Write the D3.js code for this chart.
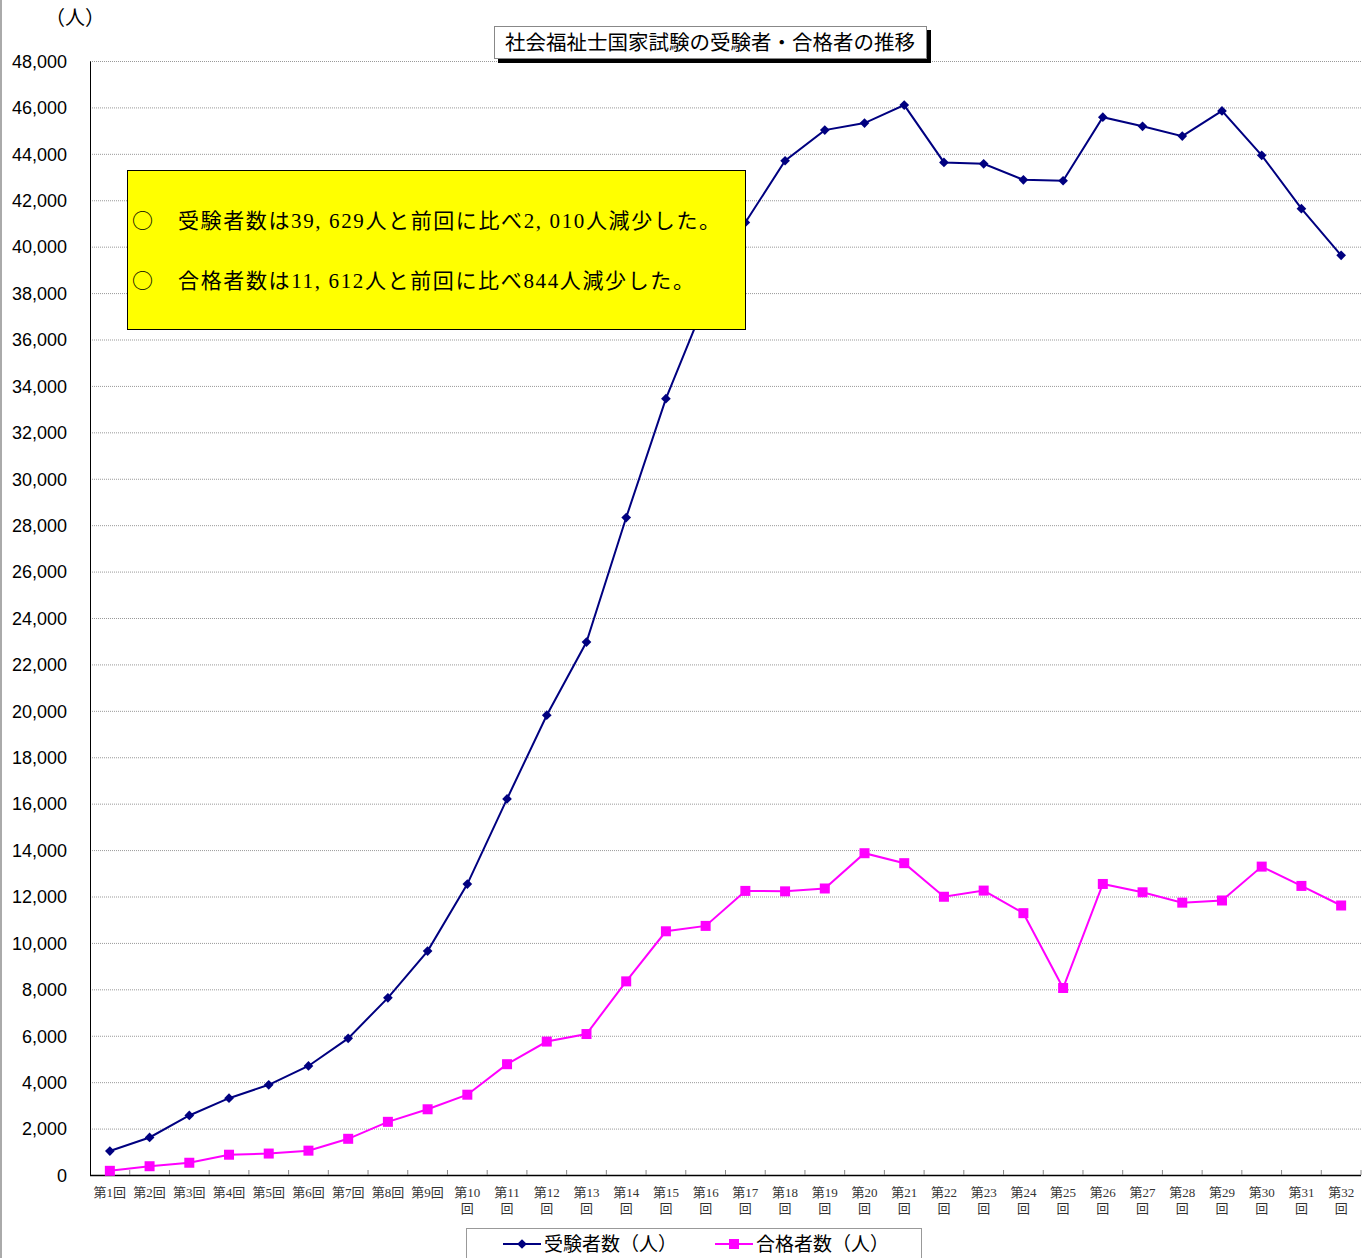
<!DOCTYPE html>
<html>
<head>
<meta charset="utf-8">
<script src="https://cdn.jsdelivr.net/npm/d3@7"></script>
<style>
  html, body { margin: 0; padding: 0; background: #fff; }
  svg { display: block; }
</style>
</head>
<body>
<svg id="chart"></svg>
<script>
// 社会福祉士国家試験 第1回〜第32回
const rounds = d3.range(1, 33).map(n => n);
const examinees = [1033, 1617, 2565, 3309, 3886, 4698, 5887, 7633, 9649, 12535,
    16206, 19812, 22962, 28329, 33452, 37657, 41044, 43701, 45022, 45324,
    46099, 43631, 43568, 42882, 42841, 45578, 45187, 44764, 45849, 43937,
    41639, 39629];
const passers = [180, 378, 528, 874, 924, 1049, 1560, 2291, 2832, 3460,
    4774, 5749, 6074, 8343, 10501, 10733, 12241, 12222, 12345, 13865,
    13436, 11989, 12255, 11282, 8058, 12540, 12181, 11735, 11828, 13288,
    12456, 11612];
const yTicks = d3.range(0, 48001, 2000);
const notes = [
    "受験者数は39, 629人と前回に比べ2, 010人減少した。",
    "合格者数は11, 612人と前回に比べ844人減少した。"
];

(function () {
    const W = 1367, H = 1258;
    const svg = d3.select("#chart").attr("width", W).attr("height", H);
    const serif = "'Liberation Serif', 'Noto Sans CJK JP', serif";
    const jp = "'Noto Sans CJK JP', sans-serif";

    const m = { left: 90, right: 1361, top: 61, bottom: 1175 };

    const x = d3.scaleBand().domain(rounds).range([m.left, m.right]);
    const y = d3.scaleLinear().domain([0, 48000]).range([m.bottom, m.top]);

    // outer frame (left edge)
    svg.append("line").attr("x1", 1).attr("x2", 1).attr("y1", 0).attr("y2", H)
        .attr("stroke", "#aaa").attr("stroke-width", 2);

    // grid
    svg.append("g").selectAll("line").data(yTicks.filter(d => d > 0)).join("line")
        .attr("x1", m.left).attr("x2", m.right)
        .attr("y1", d => y(d) + 0.5).attr("y2", d => y(d) + 0.5)
        .attr("stroke", "#999").attr("stroke-width", 1).attr("stroke-dasharray", "1,1");

    // y axis
    const yAxis = svg.append("g").attr("transform", `translate(${m.left},0)`)
        .call(d3.axisLeft(y).tickValues(yTicks).tickSize(0).tickPadding(23).tickFormat(d3.format(",")));
    yAxis.select(".domain").attr("stroke", "#000");
    yAxis.selectAll("text").attr("font-family", "'Liberation Sans', Arial, sans-serif")
        .attr("font-size", 18).attr("fill", "#000").attr("dy", "0.35em");

    // x axis
    const xAxis = svg.append("g").attr("transform", `translate(0,${m.bottom})`);
    xAxis.append("line").attr("x1", m.left).attr("x2", m.right).attr("y1", 0.5).attr("y2", 0.5)
        .attr("stroke", "#000").attr("stroke-width", 1.5);
    xAxis.selectAll("line.tk").data(rounds).join("line").attr("class", "tk")
        .attr("x1", d => x(d) + x.bandwidth()).attr("x2", d => x(d) + x.bandwidth())
        .attr("y1", 0).attr("y2", -5).attr("stroke", "#888");
    const lbl = xAxis.selectAll("text").data(rounds).join("text")
        .attr("x", d => x(d) + x.bandwidth() / 2).attr("y", 22)
        .attr("text-anchor", "middle").attr("font-family", serif)
        .attr("font-size", 13).attr("fill", "#333");
    lbl.each(function (d) {
        const t = d3.select(this);
        if (d < 10) {
            t.text(`第${d}回`);
        } else {
            t.append("tspan").attr("x", x(d) + x.bandwidth() / 2).text(`第${d}`);
            t.append("tspan").attr("x", x(d) + x.bandwidth() / 2).attr("dy", 16).text("回");
        }
    });

    // unit label
    svg.append("text").attr("x", 75).attr("y", 25).attr("text-anchor", "middle")
        .attr("font-family", jp).attr("font-size", 20).attr("fill", "#000").text("（人）");

    // series
    const cx = d => x(d) + x.bandwidth() / 2;
    const series = [
        { vals: examinees, color: "#000080", shape: "diamond" },
        { vals: passers, color: "#ff00ff", shape: "square" }
    ];
    series.forEach(s => {
        const line = d3.line().x((d, i) => cx(rounds[i])).y(d => y(d));
        svg.append("path").datum(s.vals).attr("d", line)
            .attr("fill", "none").attr("stroke", s.color).attr("stroke-width", 2);
        const g = svg.append("g");
        if (s.shape === "diamond") {
            g.selectAll("path").data(s.vals).join("path")
                .attr("d", d3.symbol(d3.symbolDiamond2, 60))
                .attr("transform", (d, i) => `translate(${cx(rounds[i])},${y(d)})`)
                .attr("fill", s.color);
        } else {
            g.selectAll("rect").data(s.vals).join("rect")
                .attr("x", (d, i) => cx(rounds[i]) - 5).attr("y", d => y(d) - 5)
                .attr("width", 10).attr("height", 10).attr("fill", s.color);
        }
    });

    // note box
    svg.append("rect").attr("x", 127.5).attr("y", 170.5).attr("width", 618).attr("height", 159)
        .attr("fill", "#ffff00").attr("stroke", "#000").attr("stroke-width", 1);
    const noteLen = [542, 516];
    notes.forEach((t, i) => {
        svg.append("text").attr("x", 132).attr("y", 228 + i * 60)
            .attr("font-family", jp).attr("font-size", 21).attr("fill", "#000").text("○");
        svg.append("text").attr("x", 178).attr("y", 228 + i * 60)
            .attr("font-family", serif).attr("font-size", 21).attr("fill", "#000")
            .attr("textLength", noteLen[i]).attr("lengthAdjust", "spacing").text(t);
    });

    // title box
    svg.append("rect").attr("x", 498).attr("y", 30).attr("width", 433).attr("height", 33).attr("fill", "#000");
    svg.append("rect").attr("x", 494.5).attr("y", 26.5).attr("width", 432).attr("height", 32)
        .attr("fill", "#fff").attr("stroke", "#888");
    svg.append("text").attr("x", 710).attr("y", 50).attr("text-anchor", "middle")
        .attr("font-family", jp).attr("font-size", 20.5).attr("fill", "#000")
        .text("社会福祉士国家試験の受験者・合格者の推移");

    // legend
    const lg = svg.append("g");
    lg.append("rect").attr("x", 466.5).attr("y", 1228.5).attr("width", 455).attr("height", 40)
        .attr("fill", "#fff").attr("stroke", "#999");
    const items = [
        { label: "受験者数（人）", color: "#000080", shape: "diamond", x0: 503 },
        { label: "合格者数（人）", color: "#ff00ff", shape: "square", x0: 715 }
    ];
    items.forEach(it => {
        lg.append("line").attr("x1", it.x0).attr("x2", it.x0 + 38).attr("y1", 1244).attr("y2", 1244)
            .attr("stroke", it.color).attr("stroke-width", 2);
        if (it.shape === "diamond") {
            lg.append("path").attr("d", d3.symbol(d3.symbolDiamond2, 60))
                .attr("transform", `translate(${it.x0 + 19},1244)`).attr("fill", it.color);
        } else {
            lg.append("rect").attr("x", it.x0 + 14).attr("y", 1239).attr("width", 10).attr("height", 10)
                .attr("fill", it.color);
        }
        lg.append("text").attr("x", it.x0 + 41).attr("y", 1251)
            .attr("font-family", jp).attr("font-size", 19).attr("fill", "#000").text(it.label);
    });
})();
</script>
</body>
</html>
